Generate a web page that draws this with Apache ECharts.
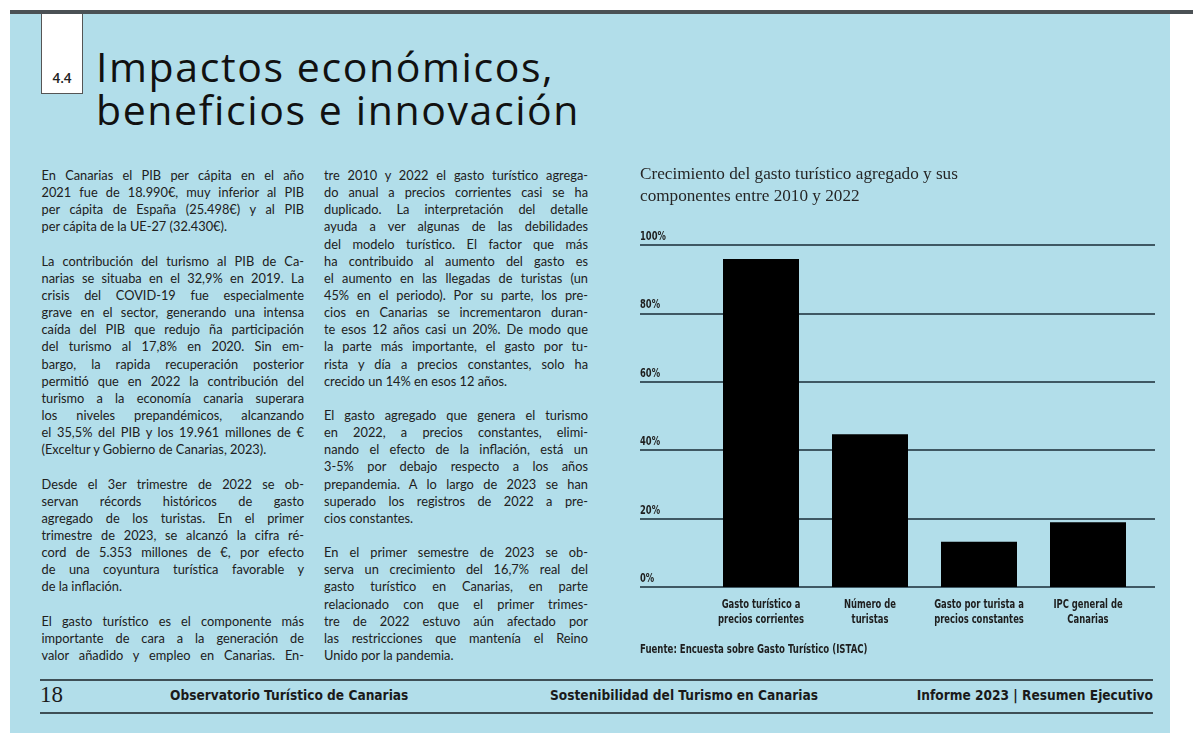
<!DOCTYPE html>
<html lang="es">
<head>
<meta charset="utf-8">
<title>Impactos económicos, beneficios e innovación</title>
<script src="https://cdn.jsdelivr.net/npm/echarts@6.0.0/dist/echarts.min.js"></script>
<style>
  html, body { margin:0; padding:0; }
  body { width:1193px; height:733px; overflow:hidden; background:#ffffff; position:relative; font-family:'Lato', sans-serif; }
  #page { position:absolute; left:10px; top:10px; width:1160px; height:723px; background:#b2deea; }
  #topbar { position:absolute; left:10px; top:10px; width:1183px; height:4px; background:#4b5155; }
  #secbox { position:absolute; left:41px; top:14px; width:40px; height:79px; background:#ffffff; border:1px solid #555; border-top:none; }
  #secnum { position:absolute; left:0; width:40px; top:56px; text-align:center; font-family:'Open Sans', sans-serif; font-weight:600; font-size:13.5px; color:#222; line-height:16px; }
  #title { position:absolute; left:96px; top:45px; font-family:'Open Sans', sans-serif; font-weight:400; font-size:41px; line-height:43px; color:#111; white-space:nowrap; letter-spacing:1.6px; }
  .col { position:absolute; top:167px; color:#202020; font-family:'Lato', sans-serif; font-size:12.8px; }
  .ln { display:block; height:17.15px; line-height:17.15px; white-space:nowrap; }
  .ln span { display:inline-block; white-space:nowrap; }
  #footer .rule { position:absolute; left:40px; width:1113px; height:1.5px; background:#3e4f56; }
  #footer .ft { position:absolute; top:686px; font-family:'DejaVu Sans Condensed', 'DejaVu Sans', sans-serif; font-weight:bold; font-size:13.6px; color:#1a1a1a; line-height:18px; white-space:nowrap; }
  #pg { position:absolute; left:40px; top:682px; font-family:'Liberation Serif', serif; font-size:23px; line-height:26px; color:#1a1a1a; }
  #chart { position:absolute; left:0; top:0; width:1193px; height:733px; z-index:5; }
</style>
</head>
<body>
<div id="page"></div>
<div id="topbar"></div>
<div id="secbox"><div id="secnum">4.4</div></div>
<div id="title">Impactos económicos,<br>beneficios e innovación</div>
<div id="col1" class="col" style="left:41.5px;width:262.5px;"></div>
<div id="col2" class="col" style="left:324px;width:264px;"></div>
<div id="footer">
  <div class="rule" style="top:679px;"></div>
  <div class="rule" style="top:712px;"></div>
  <div id="pg">18</div>
  <div class="ft" style="left:170px;">Observatorio Turístico de Canarias</div>
  <div class="ft" style="left:550px;">Sostenibilidad del Turismo en Canarias</div>
  <div class="ft" style="right:40px;">Informe 2023 | Resumen Ejecutivo</div>
</div>
<div id="chart"></div>
<script>
// ---- chart data ----
const chartTitleLines = ['Crecimiento del gasto turístico agregado y sus', 'componentes entre 2010 y 2022'];
const categories = ['Gasto turístico a\nprecios corrientes', 'Número de\nturistas', 'Gasto por turista a\nprecios constantes', 'IPC general de\nCanarias'];
const growthValues = [95.9, 44.7, 13.2, 18.9];
const yTickValues = [0, 20, 40, 60, 80, 100];
const sourceText = 'Fuente: Encuesta sobre Gasto Turístico (ISTAC)';

// ---- body text (line by line as in the page) ----
const col1Lines = [
  'En Canarias el PIB per cápita en el año',
  '2021 fue de 18.990€, muy inferior al PIB',
  'per cápita de España (25.498€) y al PIB',
  'per cápita de la UE-27 (32.430€).',
  '',
  'La contribución del turismo al PIB de Ca-',
  'narias se situaba en el 32,9% en 2019. La',
  'crisis del COVID-19 fue especialmente',
  'grave en el sector, generando una intensa',
  'caída del PIB que redujo ña participación',
  'del turismo al 17,8% en 2020. Sin em-',
  'bargo, la rapida recuperación posterior',
  'permitió que en 2022 la contribución del',
  'turismo a la economía canaria superara',
  'los niveles prepandémicos, alcanzando',
  'el 35,5% del PIB y los 19.961 millones de €',
  '(Exceltur y Gobierno de Canarias, 2023).',
  '',
  'Desde el 3er trimestre de 2022 se ob-',
  'servan récords históricos de gasto',
  'agregado de los turistas. En el primer',
  'trimestre de 2023, se alcanzó la cifra ré-',
  'cord de 5.353 millones de €, por efecto',
  'de una coyuntura turística favorable y',
  'de la inflación.',
  '',
  'El gasto turístico es el componente más',
  'importante de cara a la generación de',
  'valor añadido y empleo en Canarias. En-'
];
const col2Lines = [
  'tre 2010 y 2022 el gasto turístico agrega-',
  'do anual a precios corrientes casi se ha',
  'duplicado. La interpretación del detalle',
  'ayuda a ver algunas de las debilidades',
  'del modelo turístico. El factor que más',
  'ha contribuido al aumento del gasto es',
  'el aumento en las llegadas de turistas (un',
  '45% en el periodo). Por su parte, los pre-',
  'cios en Canarias se incrementaron duran-',
  'te esos 12 años casi un 20%. De modo que',
  'la parte más importante, el gasto por tu-',
  'rista y día a precios constantes, solo ha',
  'crecido un 14% en esos 12 años.',
  '',
  'El gasto agregado que genera el turismo',
  'en 2022, a precios constantes, elimi-',
  'nando el efecto de la inflación, está un',
  '3-5% por debajo respecto a los años',
  'prepandemia. A lo largo de 2023 se han',
  'superado los registros de 2022 a pre-',
  'cios constantes.',
  '',
  'En el primer semestre de 2023 se ob-',
  'serva un crecimiento del 16,7% real del',
  'gasto turístico en Canarias, en parte',
  'relacionado con que el primer trimes-',
  'tre de 2022 estuvo aún afectado por',
  'las restricciones que mantenía el Reino',
  'Unido por la pandemia.'
];

function buildColumn(id, lines, width, lastJustified) {
  const col = document.getElementById(id);
  lines.forEach((t, i) => {
    const d = document.createElement('div');
    d.className = 'ln';
    const s = document.createElement('span');
    s.textContent = t === '' ? '\u00a0' : t;
    d.appendChild(s);
    col.appendChild(d);
    if (t === '') return;
    const next = lines[i + 1];
    const isLast = (next === '') || (next === undefined && !lastJustified);
    const w = s.getBoundingClientRect().width;
    const spaces = (t.match(/ /g) || []).length;
    let diff = width - w;
    if (isLast) {
      if (diff < 0) s.style.letterSpacing = (diff / t.length) + 'px';
    } else {
      let ws = spaces ? diff / spaces : 0;
      if (ws < -1.2) {
        s.style.letterSpacing = ((diff + 1.2 * spaces) / t.length) + 'px';
        ws = -1.2;
      }
      s.style.wordSpacing = ws + 'px';
    }
  });
}
buildColumn('col1', col1Lines, 262.5, true);
buildColumn('col2', col2Lines, 264, false);

// ---- chart ----
const narrow = "'DejaVu Sans Condensed', 'DejaVu Sans', sans-serif";
const labelColor = '#1e1e1e';
const chart = echarts.init(document.getElementById('chart'), null, { renderer: 'canvas' });
chart.setOption({
  animation: false,
  backgroundColor: 'transparent',
  title: {
    text: chartTitleLines.join('\n'),
    left: 640, top: 163, padding: 0,
    textStyle: { fontFamily: "'Liberation Serif', serif", fontSize: 17.2, lineHeight: 22, fontWeight: 'normal', color: '#262626' }
  },
  grid: [
    { left: 640, top: 245, width: 515, height: 342 },
    { left: 706.5, top: 245, width: 436, height: 342 }
  ],
  xAxis: [
    { gridIndex: 0, type: 'category', data: [''], show: false },
    {
      gridIndex: 1, type: 'category', data: categories,
      axisLine: { show: false }, axisTick: { show: false },
      axisLabel: { show: false }
    }
  ],
  yAxis: [
    {
      gridIndex: 0, type: 'value', min: yTickValues[0], max: yTickValues[yTickValues.length - 1],
      interval: yTickValues[1] - yTickValues[0],
      axisLine: { show: false }, axisTick: { show: false },
      splitLine: { show: true, lineStyle: { color: '#3f5863', width: 2 } },
      axisLabel: { show: false }
    },
    { gridIndex: 1, type: 'value', min: yTickValues[0], max: yTickValues[yTickValues.length - 1], show: false }
  ],
  series: [
    { type: 'bar', xAxisIndex: 1, yAxisIndex: 1, data: growthValues, barWidth: 76, itemStyle: { color: '#000000' } }
  ]
});

// condensed labels placed through the axes' own scales
const gfx = [];
categories.forEach((c, i) => {
  const p = chart.convertToPixel({ xAxisIndex: 1, yAxisIndex: 1 }, [i, 0]);
  gfx.push({
    type: 'text', x: p[0], y: p[1] + 10, scaleX: 0.78, silent: true,
    style: { text: c, x: 0, y: 0, align: 'center', verticalAlign: 'top', fontFamily: narrow, fontSize: 12, fontWeight: 'bold', lineHeight: 15, fill: labelColor }
  });
});
yTickValues.forEach(v => {
  const py = chart.convertToPixel({ yAxisIndex: 0 }, v);
  gfx.push({
    type: 'text', x: 640, y: py - 2, scaleX: 0.81, silent: true,
    style: { text: v + '%', x: 0, y: 0, align: 'left', verticalAlign: 'bottom', fontFamily: narrow, fontSize: 11.5, fontWeight: 'bold', fill: labelColor }
  });
});
gfx.push({
  type: 'text', x: 640, y: 650, scaleX: 0.83, silent: true,
  style: { text: sourceText, x: 0, y: 0, align: 'left', verticalAlign: 'middle', fontFamily: narrow, fontSize: 11.5, fontWeight: 'bold', fill: labelColor }
});
chart.setOption({ graphic: gfx });
</script>
</body>
</html>
